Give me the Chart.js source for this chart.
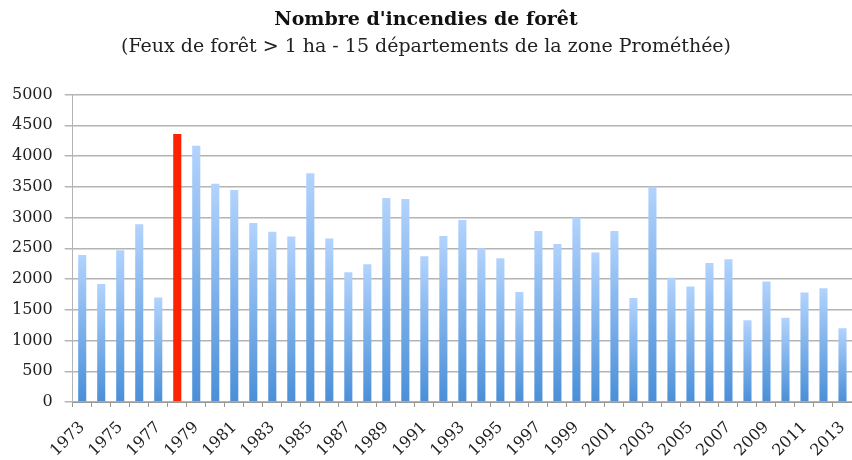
<!DOCTYPE html>
<html>
<head>
<meta charset="utf-8">
<script src="https://cdn.jsdelivr.net/npm/chart.js@4.4.0/dist/chart.umd.min.js"></script>
<style>
  html, body { margin: 0; padding: 0; background: #fff; }
  #wrap { width: 852px; height: 460px; }
</style>
</head>
<body>
<div id="wrap"><canvas id="fires" width="852" height="460"></canvas></div>
<script>
const years = [
  1973, 1974, 1975, 1976, 1977, 1978, 1979, 1980, 1981, 1982,
  1983, 1984, 1985, 1986, 1987, 1988, 1989, 1990, 1991, 1992,
  1993, 1994, 1995, 1996, 1997, 1998, 1999, 2000, 2001, 2002,
  2003, 2004, 2005, 2006, 2007, 2008, 2009, 2010, 2011, 2012, 2013
];
const fires = [
  2390, 1920, 2470, 2890, 1700, 4360, 4170, 3550, 3450, 2910,
  2770, 2690, 3720, 2660, 2110, 2240, 3320, 3300, 2370, 2700,
  2960, 2500, 2340, 1790, 2780, 2570, 3000, 2430, 2780, 1690,
  3500, 2020, 1880, 2260, 2320, 1330, 1960, 1370, 1780, 1850, 1200
];
const highlightYear = 1978;
const yTicks = [0, 500, 1000, 1500, 2000, 2500, 3000, 3500, 4000, 4500, 5000];

const serif = "'DejaVu Serif', 'Liberation Serif', serif";

// gradient per bar: light at the top, darker blue at the base
function barFill(context) {
  const chart = context.chart;
  const { ctx, chartArea, scales } = chart;
  if (!chartArea || !scales.y) return "#6aa6e6";
  if (years[context.dataIndex] === highlightYear) return "#ff2200";
  const v = fires[context.dataIndex];
  const top = scales.y.getPixelForValue(v);
  const bottom = scales.y.getPixelForValue(0);
  const g = ctx.createLinearGradient(0, top, 0, bottom);
  g.addColorStop(0, "#b2d3fd");
  g.addColorStop(1, "#4a8fd8");
  return g;
}

new Chart(document.getElementById("fires"), {
  type: "bar",
  data: {
    labels: years.map(String),
    datasets: [{
      data: fires,
      backgroundColor: barFill,
      borderWidth: 0,
      barPercentage: 0.85,
      categoryPercentage: 0.5
    }]
  },
  options: {
    responsive: false,
    animation: false,
    layout: { padding: { left: 0, right: 0, top: 0, bottom: 0 } },
    plugins: {
      legend: { display: false },
      tooltip: { enabled: false },
      title: {
        display: true,
        text: "Nombre d'incendies de forêt",
        color: "#111",
        font: { family: serif, size: 19, weight: "bold" },
        padding: { top: 9, bottom: 4 }
      },
      subtitle: {
        display: true,
        text: "(Feux de forêt > 1 ha - 15 départements de la zone Prométhée)",
        color: "#222",
        font: { family: serif, size: 19 },
        padding: { top: 0, bottom: 36 }
      }
    },
    scales: {
      x: {
        // the last rotated label hangs to the left, so no room is needed on the right
        afterFit: scale => { scale.paddingRight = 0; scale.height = 58; },
        grid: {
          offset: true,
          drawOnChartArea: false,
          drawTicks: true,
          tickLength: 5,
          color: "#999"
        },
        border: { color: "#999", width: 1 },
        ticks: {
          autoSkip: false,
          minRotation: 45,
          maxRotation: 45,
          color: "#222",
          font: { family: serif, size: 16 },
          padding: 11,
          callback: function(value, index) {
            return index % 2 === 0 ? String(years[index]) : "";
          }
        }
      },
      y: {
        min: 0,
        max: 5000,
        afterBuildTicks: axis => { axis.ticks = yTicks.map(v => ({ value: v })); },
        grid: { color: "#b4b4b4", lineWidth: 1.5, tickLength: 8 },
        border: { color: "#b4b4b4", width: 1 },
        ticks: {
          color: "#222",
          font: { family: serif, size: 16 },
          padding: 12,
          callback: value => String(value)
        }
      }
    }
  }
});
</script>
</body>
</html>
